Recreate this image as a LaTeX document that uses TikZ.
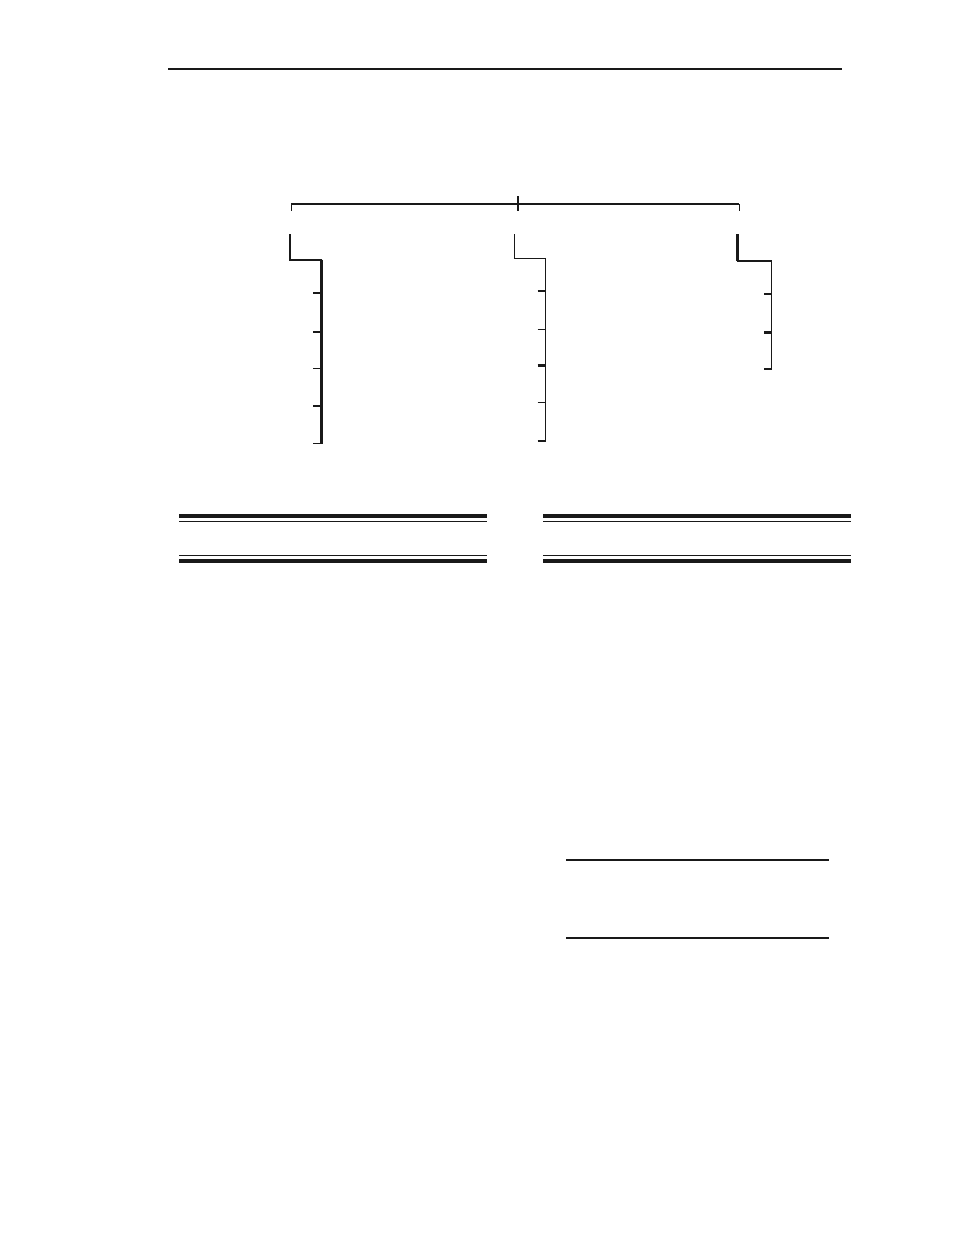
\documentclass[tikz,border=0pt]{standalone}
\begin{document}
\begin{tikzpicture}[x=1pt,y=-1pt,
  thinln/.style={line width=1.1pt,color=black!90},
  medln/.style={line width=2pt,color=black!90},
  thickln/.style={line width=2.6pt,color=black!90},
  heavyln/.style={line width=3.8pt,color=black!90}]
\useasboundingbox (0,0) rectangle (954,1235);
% page header rule
\draw[medln] (168,69) -- (842,69);
% top bracket
\coordinate (bl) at (291.3,204.3);
\coordinate (br) at (739.3,204.3);
\coordinate (bc) at (517.7,204.3);
\draw[medln] (bl) -- (br);
\draw[thinln] (bl) -- ++(0,6.7);
\draw[thinln] (br) -- ++(0,6.7);
\draw[medln] (517.7,196) -- (517.7,211);
% left group
\draw[thickln] (290,234) -- (290,260);
\draw[thinln] (289,260) -- (321.7,260);
\draw[thickln] (321.7,259.5) -- (321.7,444);
\draw[thinln] (313.3,293) -- (321.7,293);
\draw[thickln] (313.3,332) -- (321.7,332);
\draw[thinln] (313.3,368.7) -- (321.7,368.7);
\draw[thickln] (313.3,406) -- (321.7,406);
\draw[thinln] (313.3,443.3) -- (321.7,443.3);
% middle group
\draw[thinln] (514.3,234) -- (514.3,258.3);
\draw[thinln] (513.8,258.3) -- (545.3,258.3);
\draw[thinln] (545.3,257.8) -- (545.3,442);
\draw[thinln] (537.7,291) -- (545.3,291);
\draw[thinln] (537.7,329.3) -- (545.3,329.3);
\draw[thickln] (537.7,365.7) -- (545.3,365.7);
\draw[thinln] (537.7,402.7) -- (545.3,402.7);
\draw[thinln] (537.7,441) -- (545.3,441);
% right group
\draw[thickln] (737.7,234) -- (737.7,261);
\draw[thinln] (736.5,261) -- (771.7,261);
\draw[thinln] (771.7,260.5) -- (771.7,369.5);
\draw[thinln] (764.3,294) -- (771.7,294);
\draw[thickln] (764.3,332.7) -- (771.7,332.7);
\draw[thinln] (764.3,369) -- (771.7,369);
% left table rules
\draw[heavyln] (179,515.9) -- (487,515.9);
\draw[thinln] (179,521.3) -- (487,521.3);
\draw[thinln] (179,555.3) -- (487,555.3);
\draw[heavyln] (179,561) -- (487,561);
% right table rules
\draw[heavyln] (543,515.9) -- (851,515.9);
\draw[thinln] (543,521.3) -- (851,521.3);
\draw[thinln] (543,555.3) -- (851,555.3);
\draw[heavyln] (543,561) -- (851,561);
% bottom table rules
\draw[medln] (566,860) -- (828.7,860);
\draw[medln] (566,938) -- (828.7,938);
\end{tikzpicture}
\end{document}
